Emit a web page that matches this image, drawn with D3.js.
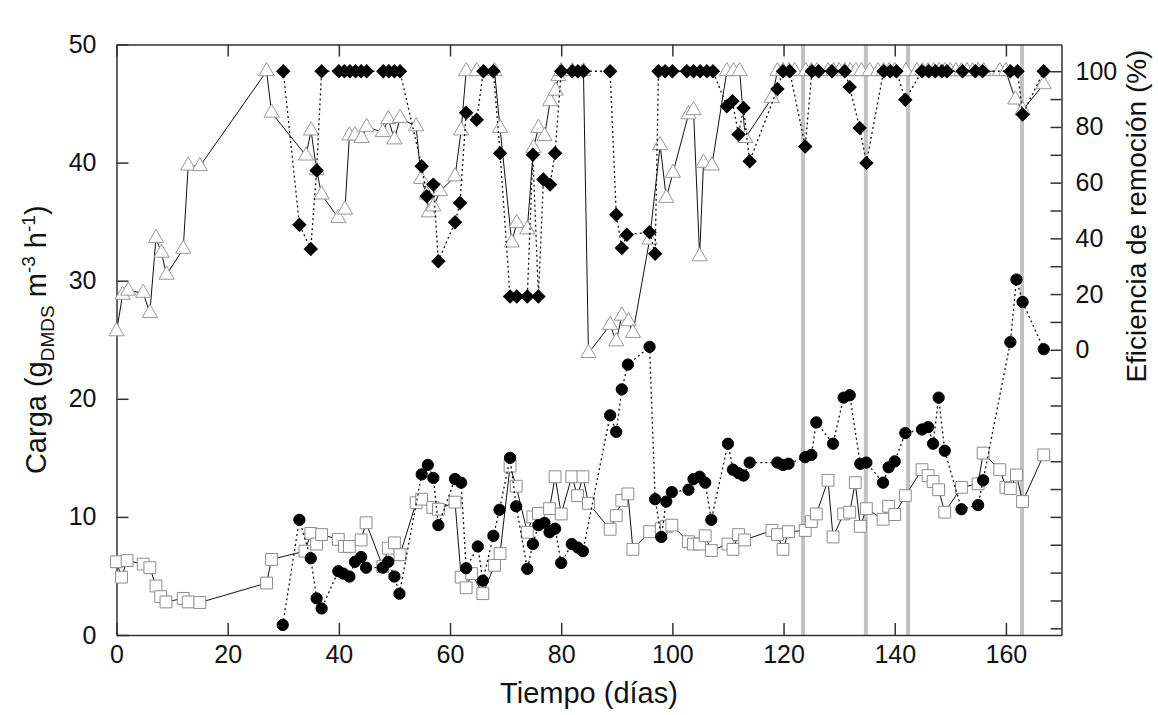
<!DOCTYPE html>
<html>
<head>
<meta charset="utf-8">
<script src="https://cdn.jsdelivr.net/npm/d3@7"></script>
<style>
  body { margin: 0; background: #fff; }
  svg { font-family: "Liberation Sans", Arial, sans-serif; }
  .axis text { font-size: 25px; fill: #111; }
  .axis path, .axis line { stroke: #333; stroke-width: 1.5px; }
</style>
</head>
<body>
<div id="chart"></div>
<script>
// triangles (remocion, % - solid line)
var triDays = [0, 1.1, 2.1, 4.8, 6, 7.1, 8.1, 9, 12, 12.9, 15, 27, 27.9, 34.1, 35, 36, 36.9, 39.9, 41.1, 41.9, 42.9, 44.1, 45,
  47.9, 48.9, 50, 51, 53.9, 54.8, 55.8, 56.2, 57, 58.2, 60.9, 62, 62.9, 64.8, 68, 69, 71.1, 72, 73.9, 75, 75.9, 77, 78, 79, 79.5,
  80, 82, 84, 84.9, 88.8, 89.9, 90.9, 92.1, 92.9, 95.9, 97.8, 98.9, 100.1, 102.9, 103.8, 104.9, 105.6, 107.1, 109.8, 111, 112.1,
  113.1, 117.9, 118.9, 119.9, 121, 122, 124, 125, 126, 128, 129, 130, 131, 132, 133, 134, 135.5, 137, 138, 139, 140, 142, 144,
  145, 146, 147, 148, 149, 150, 151, 152, 153, 154, 155, 156, 158.9, 160, 161.7, 163, 166.8];
var triVals = [6.6, 19.7, 21.2, 20.4, 13.2, 40.1, 34.8, 26.9, 36.2, 66.1, 65.9, 100, 85.1, 69.7, 78.7, 64.4, 55.7, 47.3, 50.3, 76.9, 76.9, 76.0, 80.0,
  78.1, 82.8, 75.5, 83.2, 80.2, 61.3, 55.7, 49.3, 51.4, 56.9, 62.2, 78.7, 100, 100, 100, 79.6, 38.5, 45.5, 43.2, 72.4, 79.6, 76.7, 89.2, 93.0, 98.2,
  100, 100, 100, -1.2, 8.9, 3.0, 12.2, 10.2, 6.0, 39.5, 73.4, 54.5, 63.5, 84.5, 86.0, 33.5, 67.1, 66.1, 100, 100, 100,
  76.0, 90.4, 100, 100, 100, 100, 100, 100, 100, 100, 100, 100, 100, 100, 100, 100, 100, 100, 100, 100, 100, 100, 100,
  100, 100, 100, 100, 100, 100, 100, 100, 100, 100, 100, 100, 100, 100, 89.8, 86, 95.3];

// diamonds (remocion, % - dotted line)
var diaDays = [30, 32.9, 34.95, 36, 36.9, 40, 41, 42, 43, 44, 45, 48, 49, 50, 51, 54.9, 55.8, 57, 57.9, 60.9, 61.8, 62.9, 64.8,
  66, 67.8, 69, 70.8, 72, 73.9, 74.9, 75.9, 76.8, 78, 78.9, 80, 82, 83, 84, 88.8, 89.9, 90.9, 91.8, 95.9, 96.9, 97.5, 98.7, 100,
  102.6, 103.8, 105, 106.2, 107.3, 109.8, 110.8, 111.9, 112.8, 113.9, 118.9, 119.9, 121.1, 123.9, 125.1, 126.3, 128.7, 131,
  131.9, 133.7, 134.9, 138, 139.2, 140.3, 141.9, 144.9, 146.1, 147.3, 148.5, 149.4, 152.2, 154.5, 155.8, 160.8, 162.1, 163, 166.8];
var diaVals = [100, 44.9, 36.2, 64.4, 100, 100, 100, 100, 100, 100, 100, 100, 100, 100, 100, 65.9, 55.1, 59.3, 31.8, 45.8, 52.7, 85.1, 82.6,
  100, 100, 70.6, 19.1, 19.1, 19.1, 70.0, 19.1, 61.1, 59.3, 70.6, 100, 100, 100, 100, 100, 48.5, 36.5, 41.3, 42.2, 34.5, 100, 100, 100,
  100, 100, 100, 100, 100, 87.4, 89.2, 77.3, 86.8, 67.7, 93.6, 100, 100, 73.0, 100, 100, 100, 100,
  94.3, 79.6, 67.1, 100, 100, 100, 89.8, 100, 100, 100, 100, 100, 100, 100, 100, 100, 100, 84.5, 100];

// circles (carga, left axis - dotted line)
var cirDays = [29.9, 32.9, 34.95, 36, 36.9, 39.9, 40.8, 41.9, 42.9, 44, 44.9, 47.9, 48.9, 50, 50.9, 54.9, 56, 57, 57.9, 60.9, 62,
  62.9, 65, 65.9, 67.8, 68.9, 70.8, 71.9, 73.9, 74.9, 75.9, 77, 77.9, 78.9, 80, 81.9, 83, 83.9, 88.8, 89.9, 90.9, 92, 95.9, 96.9,
  98, 98.9, 99.9, 102.9, 103.8, 104.9, 105.9, 107, 110, 110.9, 111.9, 112.8, 113.9, 118.9, 119.9, 120.9, 123.9, 125, 125.9,
  128.9, 130.8, 131.9, 133.8, 134.9, 137.9, 138.9, 140, 141.9, 144.9, 146, 146.9, 147.9, 149, 152, 155, 155.9, 160.8, 161.9,
  163, 166.8];
var cirVals = [0.85, 9.75, 6.5, 3.1, 2.25, 5.4, 5.2, 4.95, 6.2, 6.6, 5.7, 5.7, 6.2, 4.95, 3.5, 13.6, 14.4, 13.3, 9.3, 13.2, 12.9,
  5.65, 7.5, 4.6, 8.4, 10.6, 15.0, 10.9, 5.6, 7.7, 9.3, 9.5, 8.7, 9.0, 6.1, 7.7, 7.4, 7.1, 18.6, 17.2, 20.8, 22.9, 24.4, 11.5,
  8.3, 11.3, 12.1, 12.3, 13.2, 13.4, 12.9, 9.75, 16.2, 14.0, 13.7, 13.5, 14.6, 14.6, 14.4, 14.5, 15.06, 15.25, 18.0,
  16.2, 20.1, 20.3, 14.5, 14.6, 12.9, 14.2, 14.7, 17.1, 17.4, 17.6, 16.2, 20.1, 15.6, 10.65, 11.0, 13.1, 24.8, 30.1,
  28.2, 24.2];

// squares (carga, left axis - solid line)
var sqDays = [0, 0.9, 1.9, 4.8, 6, 7.1, 7.95, 8.9, 12, 12.9, 15, 27, 27.9, 33.9, 34.95, 36, 36.9, 39.9, 41, 41.9, 44, 44.9, 47.9,
  48.9, 50, 51, 53.9, 54.9, 56.9, 57.9, 60.9, 62, 62.9, 63.9, 65.9, 68, 69, 70.8, 71.9, 73.9, 74.9, 75.9, 77.9, 78.9, 80, 81.9,
  82.95, 83.9, 84.9, 88.8, 89.9, 90.9, 92, 92.9, 95.9, 98, 98.9, 99.9, 102.9, 103.8, 104.9, 105.9, 107, 110, 110.9, 111.9, 113,
  117.9, 118.9, 119.9, 120.9, 123.9, 125, 125.9, 128, 128.9, 130.8, 131.9, 132.9, 133.8, 134.9, 137.9, 138.9, 140, 141.9,
  144.9, 146, 146.9, 147.9, 149, 152, 155, 155.9, 158.9, 160, 160.8, 161.9, 163, 166.8];
var sqVals = [6.2, 4.9, 6.3, 6.0, 5.7, 4.15, 3.25, 2.8, 3.1, 2.8, 2.75, 4.4, 6.4, 7.1, 8.6, 7.7, 8.5, 8.1, 7.5, 7.5, 8.05, 9.5, 5.8,
  7.35, 7.8, 6.8, 11.2, 11.5, 10.8, 10.65, 11.25, 4.9, 4.0, 5.2, 3.5, 5.9, 6.9, 14.3, 12.6, 8.7, 10.0, 10.3, 10.7, 13.4, 10.25, 13.4,
  11.8, 13.4, 11.15, 8.95, 10.1, 11.4, 11.95, 7.25, 8.75, 9.0, 9.2, 9.3, 7.9, 7.7, 7.7, 8.4, 7.15, 7.7, 7.25, 8.5, 8.05,
  8.85, 8.5, 7.25, 8.75, 8.85, 9.6, 10.25, 13.1, 8.3, 10.25, 10.4, 12.9, 9.2, 10.7, 9.8, 10.9, 10.2, 11.8,
  14.0, 13.5, 13.0, 12.3, 10.4, 12.5, 12.8, 15.4, 14.0, 12.5, 12.4, 13.55, 11.3, 15.25];

// vertical grey markers (days)
var markDays = [123.5, 134.8, 142.4, 162.9];

var xTicks = [0, 20, 40, 60, 80, 100, 120, 140, 160];
var yLeftTicks = [0, 10, 20, 30, 40, 50];
var yRightTicks = d3.range(-100, 101, 10);
var yRightLabels = [0, 20, 40, 60, 80, 100];

function zip(a, b) {
  return a.map(function(d, i) { return { x: d, y: b[i] }; });
}

var W = 1158, H = 715;
var mLeft = 116.5, mRight = 1061.5, mTop = 44.5, mBottom = 635;

var svg = d3.select("#chart").append("svg").attr("width", W).attr("height", H);

var x = d3.scaleLinear().domain([0, 170]).range([mLeft, mRight]);
var yL = d3.scaleLinear().domain([0, 50]).range([mBottom, mTop]);
var yR = d3.scaleLinear().domain([-102.4, 109.6]).range([mBottom, mTop]);

// grey vertical lines
svg.selectAll(".mark").data(markDays).enter().append("line")
  .attr("x1", function(d) { return x(d); })
  .attr("x2", function(d) { return x(d); })
  .attr("y1", mTop).attr("y2", mBottom)
  .style("stroke", "#c2c2c2").style("stroke-width", 4);

// axes
svg.append("g").attr("class", "axis")
  .attr("transform", "translate(0," + mBottom + ")")
  .call(d3.axisBottom(x).tickValues(xTicks).tickSizeInner(-12).tickSizeOuter(0).tickPadding(10));
svg.append("g").attr("class", "axis")
  .attr("transform", "translate(0," + mTop + ")")
  .call(d3.axisTop(x).tickValues(xTicks).tickSizeInner(-12).tickSizeOuter(0).tickFormat(""));
svg.append("g").attr("class", "axis")
  .attr("transform", "translate(" + mLeft + ",0)")
  .call(d3.axisLeft(yL).tickValues(yLeftTicks).tickSizeInner(-12).tickSizeOuter(0).tickPadding(20));
svg.append("g").attr("class", "axis")
  .attr("transform", "translate(" + mRight + ",0)")
  .call(d3.axisRight(yR).tickValues(yRightTicks).tickSizeInner(-11).tickSizeOuter(0).tickPadding(14)
    .tickFormat(function(d) { return yRightLabels.indexOf(d) >= 0 ? d : ""; }));

// series
function drawLine(data, yScale, dash) {
  svg.append("path").datum(data)
    .attr("d", d3.line().x(function(d) { return x(d.x); }).y(function(d) { return yScale(d.y); }))
    .style("fill", "none").style("stroke", "#111").style("stroke-width", dash ? 1.3 : 1)
    .style("stroke-dasharray", dash ? "2,3" : null);
}

function drawPoints(data, yScale, type, size, fill, stroke, rot) {
  svg.append("g").selectAll("path").data(data).enter().append("path")
    .attr("d", d3.symbol().type(type).size(size))
    .attr("transform", function(d) {
      return "translate(" + x(d.x) + "," + yScale(d.y) + ")" + (rot ? " rotate(45)" : "");
    })
    .style("fill", fill).style("stroke", stroke).style("stroke-width", 1);
}

var sq = zip(sqDays, sqVals), cir = zip(cirDays, cirVals);
var tri = zip(triDays, triVals), dia = zip(diaDays, diaVals);

drawLine(sq, yL, false);
drawPoints(sq, yL, d3.symbolSquare, 140, "#fff", "#8c8c8c", false);
drawLine(cir, yL, true);
drawPoints(cir, yL, d3.symbolCircle, 100, "#000", "#000", false);
drawLine(tri, yR, false);
drawPoints(tri, yR, d3.symbolTriangle, 100, "#fff", "#999", false);
drawLine(dia, yR, true);
drawPoints(dia, yR, d3.symbolSquare, 85, "#000", "#000", true);

// titles
svg.append("text")
  .attr("x", (mLeft + mRight) / 2).attr("y", 703)
  .attr("text-anchor", "middle").style("font-size", "29px").style("fill", "#111")
  .text("Tiempo (días)");

var lt = svg.append("text")
  .attr("transform", "translate(46," + ((mTop + mBottom) / 2) + ") rotate(-90)")
  .attr("text-anchor", "middle").style("font-size", "29px").style("fill", "#111");
lt.append("tspan").text("Carga (g");
lt.append("tspan").attr("dy", 8).style("font-size", "19px").text("DMDS");
lt.append("tspan").attr("dy", -8).text(" m");
lt.append("tspan").attr("dy", -11).style("font-size", "19px").text("-3");
lt.append("tspan").attr("dy", 11).text(" h");
lt.append("tspan").attr("dy", -11).style("font-size", "19px").text("-1");
lt.append("tspan").attr("dy", 11).text(")");

svg.append("text")
  .attr("transform", "translate(1146," + yR(48) + ") rotate(-90)")
  .attr("text-anchor", "middle").style("font-size", "28px").style("fill", "#111")
  .text("Eficiencia de remoción (%)");
</script>
</body>
</html>
